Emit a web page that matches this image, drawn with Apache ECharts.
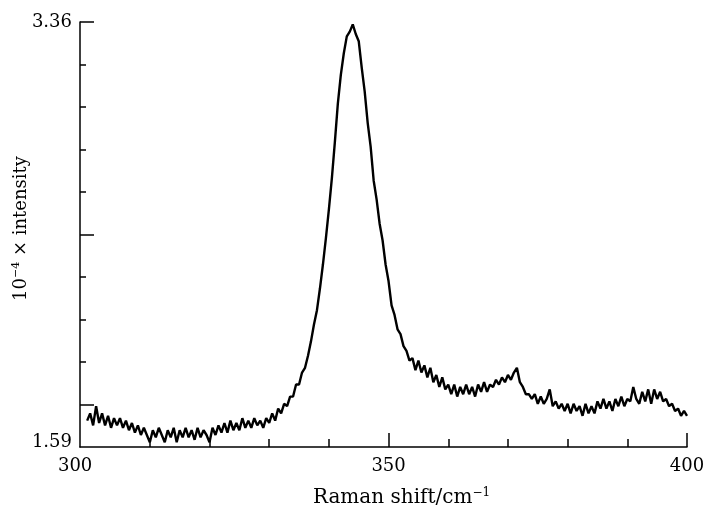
<!DOCTYPE html>
<html>
<head>
<meta charset="utf-8">
<script src="https://cdn.jsdelivr.net/npm/echarts@6/dist/echarts.min.js"></script>
<style>
    html, body { margin: 0; padding: 0; background: #fff; }
    #main { width: 707px; height: 510px; }
</style>
</head>
<body>
<div id="main"></div>
<script>
// Raman shift (cm-1)
var shiftArray = [
    299.5, 300, 300.5, 301, 301.5, 302, 302.5, 303, 303.5, 304,
    304.5, 305, 305.5, 306, 306.5, 307, 307.5, 308, 308.5, 309,
    309.5, 310, 310.5, 311, 311.5, 312, 312.5, 313, 313.5, 314,
    314.5, 315, 315.5, 316, 316.5, 317, 317.5, 318, 318.5, 319,
    319.5, 320, 320.5, 321, 321.5, 322, 322.5, 323, 323.5, 324,
    324.5, 325, 325.5, 326, 326.5, 327, 327.5, 328, 328.5, 329,
    329.5, 330, 330.5, 331, 331.5, 332, 332.5, 333, 333.5, 334,
    334.5, 335, 335.5, 336, 336.5, 337, 337.5, 338, 338.5, 339,
    339.5, 340, 340.5, 341, 341.5, 342, 342.5, 343, 343.5, 344,
    344.5, 345, 345.5, 346, 346.5, 347, 347.5, 348, 348.5, 349,
    349.5, 350, 350.5, 351, 351.5, 352, 352.5, 353, 353.5, 354,
    354.5, 355, 355.5, 356, 356.5, 357, 357.5, 358, 358.5, 359,
    359.5, 360, 360.5, 361, 361.5, 362, 362.5, 363, 363.5, 364,
    364.5, 365, 365.5, 366, 366.5, 367, 367.5, 368, 368.5, 369,
    369.5, 370, 370.5, 371, 371.5, 372, 372.5, 373, 373.5, 374,
    374.5, 375, 375.5, 376, 376.5, 377, 377.5, 378, 378.5, 379,
    379.5, 380, 380.5, 381, 381.5, 382, 382.5, 383, 383.5, 384,
    384.5, 385, 385.5, 386, 386.5, 387, 387.5, 388, 388.5, 389,
    389.5, 390, 390.5, 391, 391.5, 392, 392.5, 393, 393.5, 394,
    394.5, 395, 395.5, 396, 396.5, 397, 397.5, 398, 398.5, 399,
    399.5, 400
];
// 10^-4 x intensity
var intensityArray = [
    1.70, 1.73, 1.68, 1.76, 1.69, 1.73, 1.68, 1.72, 1.67, 1.71,
    1.68, 1.71, 1.67, 1.70, 1.66, 1.69, 1.65, 1.68, 1.64, 1.67,
    1.64, 1.61, 1.66, 1.63, 1.67, 1.64, 1.61, 1.66, 1.63, 1.67,
    1.61, 1.66, 1.63, 1.67, 1.63, 1.66, 1.62, 1.67, 1.63, 1.66,
    1.64, 1.61, 1.67, 1.64, 1.68, 1.65, 1.69, 1.65, 1.70, 1.66,
    1.69, 1.66, 1.71, 1.67, 1.70, 1.67, 1.71, 1.68, 1.70, 1.67,
    1.71, 1.69, 1.73, 1.70, 1.75, 1.73, 1.77, 1.76, 1.80, 1.80,
    1.85, 1.85, 1.90, 1.92, 1.97, 2.03, 2.10, 2.16, 2.25, 2.35,
    2.46, 2.58, 2.71, 2.86, 3.02, 3.14, 3.23, 3.30, 3.32, 3.35,
    3.31, 3.28, 3.17, 3.07, 2.94, 2.84, 2.70, 2.62, 2.52, 2.45,
    2.35, 2.28, 2.18, 2.14, 2.08, 2.06, 2.01, 1.99, 1.95, 1.96,
    1.91, 1.95, 1.90, 1.93, 1.88, 1.92, 1.86, 1.89, 1.84, 1.88,
    1.83, 1.85, 1.81, 1.85, 1.80, 1.84, 1.81, 1.85, 1.81, 1.84,
    1.80, 1.85, 1.82, 1.86, 1.82, 1.85, 1.84, 1.87, 1.85, 1.88,
    1.86, 1.89, 1.87, 1.90, 1.92, 1.86, 1.84, 1.81, 1.81, 1.79,
    1.81, 1.77, 1.80, 1.77, 1.79, 1.83, 1.76, 1.78, 1.75, 1.77,
    1.74, 1.77, 1.73, 1.77, 1.74, 1.76, 1.72, 1.77, 1.73, 1.76,
    1.73, 1.78, 1.75, 1.79, 1.75, 1.78, 1.74, 1.79, 1.76, 1.80,
    1.76, 1.79, 1.78, 1.84, 1.79, 1.77, 1.82, 1.78, 1.83, 1.77,
    1.83, 1.79, 1.82, 1.78, 1.79, 1.76, 1.77, 1.74, 1.75, 1.72,
    1.74, 1.72
];
// tick marks and labels
var xMinorTicks = [310, 320, 330, 340, 360, 370, 380, 390];
var xMajorTicks = [350, 400];
var xLabels = [300, 350, 400];
var yMinorTicks = [1.944, 2.121, 2.298, 2.652, 2.829, 3.006, 3.183];
var yMajorTicks = [1.767, 2.475, 3.36];
var yLabels = [1.59, 3.36];

var serif = 'DejaVu Serif';

function chart() {
    var data = [];
    for (var i = 0; i < shiftArray.length; i++) {
        data.push([shiftArray[i], intensityArray[i]]);
    }
    var myChart = echarts.init(document.getElementById('main'));
    var option = {
        animation: false,
        backgroundColor: '#fff',
        grid: { left: 80, right: 20, top: 22, bottom: 63, outerBoundsMode: 'none', containLabel: false },
        xAxis: [{
            type: 'value',
            min: 298.3,
            max: 400,
            name: 'Raman shift/cm{sup|−1}',
            nameLocation: 'middle',
            nameGap: 40,
            nameTextStyle: {
                fontFamily: serif, fontSize: 20, color: '#000',
                padding: [0, 0, 0, 36],
                rich: { sup: { fontFamily: serif, fontSize: 12, verticalAlign: 'top', padding: [0, 0, 10, 0], color: '#000' } }
            },
            axisLine: { lineStyle: { color: '#000', width: 1.5 } },
            axisTick: { inside: true, length: 8, customValues: xMinorTicks, lineStyle: { color: '#000', width: 1.5 } },
            axisLabel: {
                customValues: xLabels,
                margin: 10,
                fontFamily: serif, fontSize: 18, color: '#000',
                formatter: function (v) { return v === 300 ? '{a|300}' : String(v); },
                rich: { a: { fontFamily: serif, fontSize: 18, color: '#000', padding: [0, 30, 0, 0] } }
            },
            splitLine: { show: false }
        }, {
            type: 'value',
            min: 298.3,
            max: 400,
            position: 'bottom',
            axisLine: { show: false },
            axisTick: { inside: true, length: 14, customValues: xMajorTicks, lineStyle: { color: '#000', width: 1.5 } },
            axisLabel: { show: false },
            splitLine: { show: false }
        }],
        yAxis: [{
            type: 'value',
            min: 1.59,
            max: 3.36,
            name: '10{sup|−4} × intensity',
            nameLocation: 'middle',
            nameGap: 48,
            nameMoveOverlap: false,
            nameTextStyle: {
                fontFamily: serif, fontSize: 18, color: '#000',
                padding: [0, 0, 0, 12],
                rich: { sup: { fontFamily: serif, fontSize: 11, verticalAlign: 'top', padding: [0, 0, 10, 0], color: '#000' } }
            },
            axisLine: { show: true, lineStyle: { color: '#000', width: 1.5 } },
            axisTick: { show: true, inside: true, length: 6, customValues: yMinorTicks, lineStyle: { color: '#000', width: 1.5 } },
            axisLabel: {
                customValues: yLabels,
                margin: 8,
                fontFamily: serif, fontSize: 18, color: '#000',
                formatter: function (v) { return v < 2 ? '{b|' + v.toFixed(2) + '}' : v.toFixed(2); },
                rich: { b: { fontFamily: serif, fontSize: 18, color: '#000', padding: [0, 0, 10, 0] } }
            },
            splitLine: { show: false }
        }, {
            type: 'value',
            min: 1.59,
            max: 3.36,
            position: 'left',
            axisLine: { show: false },
            axisTick: { show: true, inside: true, length: 14, customValues: yMajorTicks, lineStyle: { color: '#000', width: 1.5 } },
            axisLabel: { show: false },
            splitLine: { show: false }
        }],
        series: [{
            type: 'line',
            data: data,
            showSymbol: false,
            lineStyle: { color: '#000', width: 2.4 },
            xAxisIndex: 0,
            yAxisIndex: 0
        }]
    };
    myChart.setOption(option);
}
chart();
</script>
</body>
</html>
